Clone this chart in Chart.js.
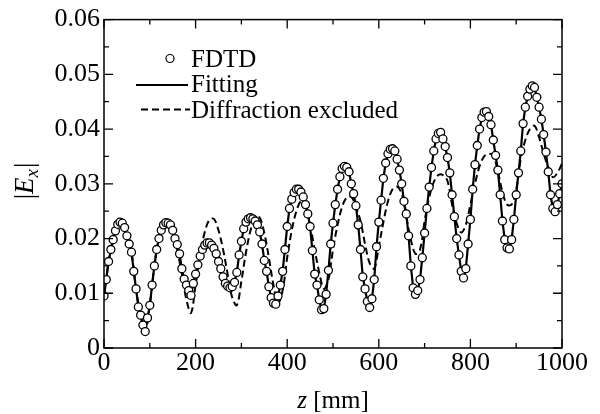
<!DOCTYPE html>
<html><head><meta charset="utf-8">
<script src="https://cdn.jsdelivr.net/npm/chart.js@4/dist/chart.umd.min.js"></script>
<style>html,body{margin:0;padding:0;background:#fff}canvas{display:block}
#probe{position:absolute;left:-1000px;top:0;font-family:"Liberation Serif";font-size:24px}
#probe i{font-style:italic}</style>
</head><body>
<span id="probe">Probe <i>italic</i></span>
<canvas id="c" width="600" height="414"></canvas>
<script>
// ---- data (z in mm, |Ex|) ----
const fdtdZ = [0,5,10,15,20,25,30,35,40,45,50,55,60,65,70,75,80,85,90,95,
100,105,110,115,120,125,130,135,140,145,150,155,160,165,170,175,180,185,190,195,
200,205,210,215,220,225,230,235,240,245,250,255,260,265,270,275,280,285,290,295,
300,305,310,315,320,325,330,335,340,345,350,355,360,365,370,375,380,385,390,395,
400,405,410,415,420,425,430,435,440,445,450,455,460,465,470,475,480,485,490,495,
500,505,510,515,520,525,530,535,540,545,550,555,560,565,570,575,580,585,590,595,
600,605,610,615,620,625,630,635,640,645,650,655,660,665,670,675,680,685,690,695,
700,705,710,715,720,725,730,735,740,745,750,755,760,765,770,775,780,785,790,795,
800,805,810,815,820,825,830,835,840,845,850,855,860,865,870,875,880,885,890,895,
900,905,910,915,920,925,930,935,940,945,950,955,960,965,970,975,980,985,990,995,1000];
const fdtd = [0.0095,0.0125,0.0158,0.0180,0.0198,0.0214,0.0226,0.0230,0.0228,0.0220,
0.0205,0.0190,0.0175,0.0140,0.0108,0.0075,0.0060,0.0042,0.0030,0.0055,
0.0078,0.0115,0.0150,0.0180,0.0200,0.0215,0.0225,0.0229,0.0228,0.0225,
0.0215,0.0200,0.0189,0.0172,0.0145,0.0126,0.0115,0.0105,0.0096,0.0118,
0.0135,0.0152,0.0168,0.0180,0.0188,0.0192,0.0192,0.0188,0.0182,0.0172,
0.0158,0.0145,0.0130,0.0118,0.0113,0.0110,0.0112,0.0120,0.0138,0.0170,
0.0195,0.0218,0.0230,0.0236,0.0238,0.0236,0.0232,0.0225,0.0212,0.0190,
0.0160,0.0140,0.0112,0.0092,0.0082,0.0080,0.0095,0.0115,0.0140,0.0180,
0.0222,0.0255,0.0272,0.0284,0.0290,0.0290,0.0285,0.0276,0.0262,0.0245,
0.0222,0.0178,0.0135,0.0115,0.0088,0.0070,0.0072,0.0098,0.0142,0.0190,
0.0228,0.0262,0.0290,0.0313,0.0328,0.0332,0.0330,0.0322,0.0300,0.0282,
0.0260,0.0225,0.0180,0.0130,0.0108,0.0085,0.0074,0.0090,0.0125,0.0185,
0.0230,0.0270,0.0310,0.0338,0.0355,0.0363,0.0364,0.0360,0.0345,0.0325,
0.0300,0.0268,0.0245,0.0205,0.0150,0.0110,0.0098,0.0105,0.0125,0.0165,
0.0210,0.0255,0.0294,0.0330,0.0360,0.0382,0.0392,0.0394,0.0382,0.0368,
0.0348,0.0320,0.0280,0.0240,0.0200,0.0170,0.0140,0.0128,0.0145,0.0190,
0.0235,0.0290,0.0335,0.0370,0.0400,0.0421,0.0431,0.0432,0.0423,0.0408,
0.0380,0.0352,0.0325,0.0280,0.0232,0.0198,0.0183,0.0181,0.0198,0.0235,
0.0280,0.0320,0.0360,0.0410,0.0440,0.0460,0.0473,0.0479,0.0476,0.0458,
0.0440,0.0418,0.0390,0.0358,0.0322,0.0280,0.0255,0.0249,0.0262,0.0282,0.0300];
// the fitted curve runs through the FDTD samples
const fitZ = fdtdZ;
const fit = fdtd;
const diffZ = [0,10,20,30,40,50,60,70,80,90,100,110,120,130,140,150,160,170,180,190,
200,210,220,230,240,250,260,270,280,290,300,310,320,330,340,350,360,370,380,390,
400,410,420,430,440,450,460,470,480,490,500,510,520,530,540,550,560,570,580,590,
600,610,620,630,640,650,660,670,680,690,700,710,720,730,740,750,760,770,780,790,
800,810,820,830,840,850,860,870,880,890,900,910,920,930,940,950,960,970,980,990,1000];
const diff = [0.0095,0.0158,0.0198,0.0226,0.0228,0.0205,0.0175,0.0108,0.0060,0.0030,
0.0078,0.0150,0.0200,0.0225,0.0228,0.0210,0.0178,0.0135,0.0088,0.0064,
0.0115,0.0170,0.0212,0.0234,0.0236,0.0215,0.0180,0.0135,0.0092,0.0078,
0.0122,0.0175,0.0215,0.0240,0.0238,0.0210,0.0165,0.0115,0.0082,0.0105,
0.0165,0.0215,0.0250,0.0268,0.0262,0.0225,0.0180,0.0138,0.0108,0.0125,
0.0180,0.0225,0.0258,0.0275,0.0276,0.0258,0.0232,0.0190,0.0155,0.0145,
0.0185,0.0230,0.0268,0.0290,0.0295,0.0282,0.0240,0.0198,0.0172,0.0180,
0.0232,0.0275,0.0303,0.0316,0.0316,0.0305,0.0262,0.0228,0.0211,0.0225,
0.0262,0.0300,0.0332,0.0350,0.0355,0.0352,0.0322,0.0285,0.0262,0.0262,
0.0290,0.0345,0.0380,0.0400,0.0406,0.0385,0.0355,0.0330,0.0312,0.0320,0.0337];
const xMajor = [0,200,400,600,800,1000];
const xMinor = [100,300,500,700,900];
const yMajor = [0,0.01,0.02,0.03,0.04,0.05,0.06];
const yMinor = [0.005,0.015,0.025,0.035,0.045,0.055];
const seriesNames = ['FDTD','Fitting','Diffraction excluded'];
const xTitle = ['z',' [mm]'];
const yTitle = ['|','E','x','|'];

const SERIF = '"Liberation Serif", serif';
const pts = (xs, ys) => xs.map((x, i) => ({x: x, y: ys[i]}));

const deco = {
  id: 'deco',
  afterDraw(chart) {
    const c = chart.ctx, a = chart.chartArea, sx = chart.scales.x, sy = chart.scales.y;
    c.save();
    c.strokeStyle = '#000'; c.fillStyle = '#000';
    c.lineWidth = 1.5;
    c.strokeRect(a.left, a.top, a.right - a.left, a.bottom - a.top);
    c.lineWidth = 1.3;
    c.beginPath();
    const xt = (v, L) => { const p = sx.getPixelForValue(v); c.moveTo(p, a.bottom); c.lineTo(p, a.bottom - L); c.moveTo(p, a.top); c.lineTo(p, a.top + L); };
    const yt = (v, L) => { const p = sy.getPixelForValue(v); c.moveTo(a.left, p); c.lineTo(a.left + L, p); c.moveTo(a.right, p); c.lineTo(a.right - L, p); };
    xMajor.forEach(v => xt(v, 9)); xMinor.forEach(v => xt(v, 5));
    yMajor.forEach(v => yt(v, 9)); yMinor.forEach(v => yt(v, 5));
    c.stroke();

    // legend
    c.font = '25px ' + SERIF; c.textBaseline = 'alphabetic'; c.textAlign = 'left';
    c.beginPath(); c.arc(170, 58.5, 4, 0, Math.PI * 2); c.fillStyle = '#fff'; c.fill();
    c.lineWidth = 1.2; c.stroke(); c.fillStyle = '#000';
    c.fillText(seriesNames[0], 191, 67);
    c.lineWidth = 2; c.beginPath(); c.moveTo(136, 85); c.lineTo(188, 85); c.stroke();
    c.fillText(seriesNames[1], 191, 92);
    c.setLineDash([7, 4]); c.beginPath(); c.moveTo(141, 109.5); c.lineTo(190, 109.5); c.stroke(); c.setLineDash([]);
    c.fillText(seriesNames[2], 191, 118);

    // x title
    c.font = 'italic 25px ' + SERIF; const w1 = c.measureText(xTitle[0]).width;
    c.font = '25px ' + SERIF; const w2 = c.measureText(xTitle[1]).width;
    let x0 = 333 - (w1 + w2) / 2;
    c.font = 'italic 25px ' + SERIF; c.fillText(xTitle[0], x0, 408);
    c.font = '25px ' + SERIF; c.fillText(xTitle[1], x0 + w1, 408);

    // y title |E_x|
    c.translate(33, 181); c.rotate(-Math.PI / 2);
    const parts = [[yTitle[0], '27px ', 0], [yTitle[1], 'italic 27px ', 0], [yTitle[2], 'italic 19px ', 5], [yTitle[3], '27px ', 0]];
    let tw = 0; parts.forEach(p => { c.font = p[1] + SERIF; tw += c.measureText(p[0]).width + (p[0] === 'x' ? 1 : 0); });
    let px = -tw / 2;
    parts.forEach(p => { c.font = p[1] + SERIF; c.fillText(p[0], px, p[2]); px += c.measureText(p[0]).width + (p[0] === 'x' ? 1 : 0); });
    c.restore();
  }
};

function draw() {
  new Chart(document.getElementById('c'), {
    type: 'scatter',
    data: { datasets: [
      { label: seriesNames[0], data: pts(fdtdZ, fdtd), showLine: false, pointRadius: 4, pointBackgroundColor: '#fff', pointBorderColor: '#000', pointBorderWidth: 1.3, order: 0 },
      { label: seriesNames[1], data: pts(fitZ, fit), showLine: true, pointRadius: 0, borderColor: '#000', borderWidth: 2.2, order: 1 },
      { label: seriesNames[2], data: pts(diffZ, diff), showLine: true, pointRadius: 0, borderColor: '#000', borderWidth: 2, borderDash: [7, 4], tension: 0.35, order: 2 }
    ]},
    options: {
      responsive: false, animation: false, events: [],
      layout: { padding: { left: 0, top: 18, right: 38, bottom: 0 } },
      plugins: { legend: { display: false }, tooltip: { enabled: false } },
      scales: {
        x: { type: 'linear', min: 0, max: 1000,
          afterBuildTicks: s => { s.ticks = xMajor.map(v => ({ value: v })); },
          ticks: { font: { family: SERIF, size: 26 }, color: '#000', padding: 0, maxRotation: 0, autoSkip: false, callback: v => String(v) },
          grid: { display: false, drawTicks: false }, border: { display: false },
          afterFit: s => { s.height = 66; } },
        y: { type: 'linear', min: 0, max: 0.06,
          afterBuildTicks: s => { s.ticks = yMajor.map(v => ({ value: v })); },
          ticks: { font: { family: SERIF, size: 26 }, color: '#000', padding: 4, autoSkip: false, callback: v => v === 0 ? '0' : v.toFixed(2) },
          grid: { display: false, drawTicks: false }, border: { display: false },
          afterFit: s => { s.width = 104; } }
      }
    },
    plugins: [deco]
  });
}
Promise.all([
  document.fonts.load('24px "Liberation Serif"'),
  document.fonts.load('italic 24px "Liberation Serif"')
]).then(draw, draw);
</script>
</body></html>
